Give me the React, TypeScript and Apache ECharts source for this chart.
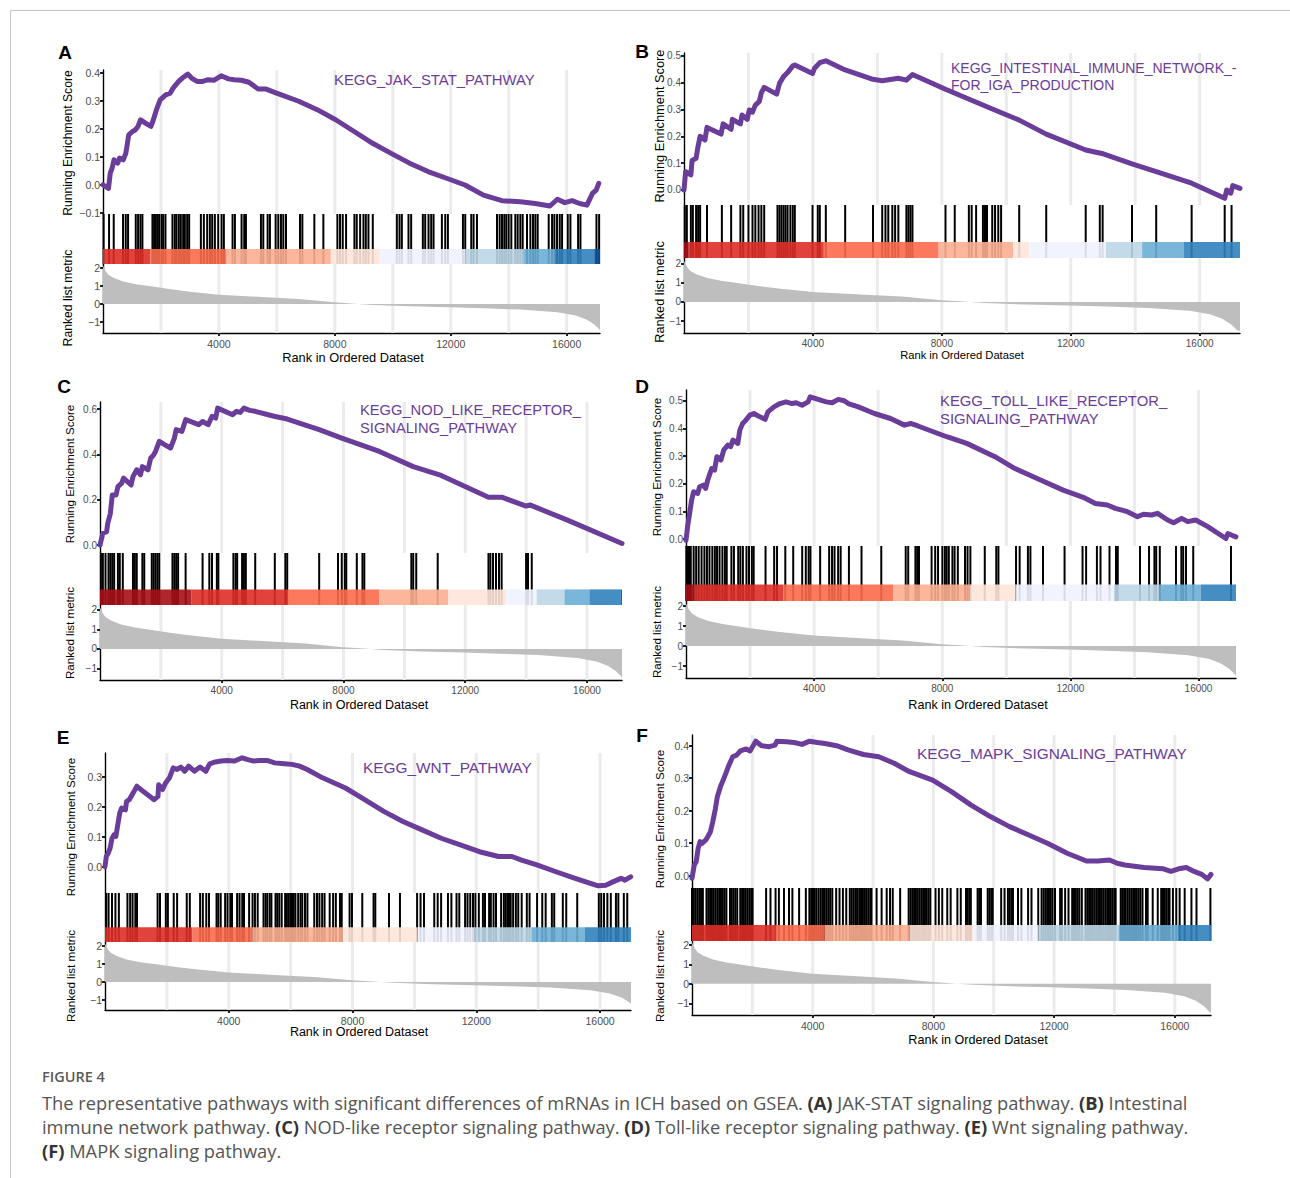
import React, { useEffect, useRef } from "react";
import * as echarts from "echarts";

// ---------------- data ----------------
const gridTicks = [2000, 4000, 6000, 8000, 10000, 12000, 14000, 16000];
const xTickLabels = [4000, 8000, 12000, 16000];
const metricTicks = [-1, 0, 1, 2];
const bandPalette = ["#08519C", "#3182BD", "#6BAED6", "#BDD7E7", "#EFF3FF", "#FEE5D9", "#FCAE91", "#FB6A4A", "#DE2D26", "#A50F15"];

const metricCurve = [[0, 2.12], [99, 1.8], [188, 1.62], [379, 1.44], [698, 1.25], [1144, 1.1], [1654, 0.98], [2292, 0.83], [2929, 0.7], [4000, 0.52], [5479, 0.39], [6754, 0.28], [7991, 0.09], [8667, 0.02], [9304, -0.05], [10579, -0.13], [11943, -0.18], [13129, -0.24], [14404, -0.31], [15679, -0.46], [16317, -0.64], [16699, -0.87], [16954, -1.14], [17082, -1.33], [17146, -1.45], [17250, -1.5]];

const titleA = ["KEGG_JAK_STAT_PATHWAY"];
const titleB = ["KEGG_INTESTINAL_IMMUNE_NETWORK_-", "FOR_IGA_PRODUCTION"];
const titleC = ["KEGG_NOD_LIKE_RECEPTOR_", "SIGNALING_PATHWAY"];
const titleD = ["KEGG_TOLL_LIKE_RECEPTOR_", "SIGNALING_PATHWAY"];
const titleE = ["KEGG_WNT_PATHWAY"];
const titleF = ["KEGG_MAPK_SIGNALING_PATHWAY"];

const esTicksA = [-0.1, 0, 0.1, 0.2, 0.3, 0.4];
const esTicksB = [0, 0.1, 0.2, 0.3, 0.4, 0.5];
const esTicksC = [0, 0.2, 0.4, 0.6];
const esTicksD = [0, 0.1, 0.2, 0.3, 0.4, 0.5];
const esTicksE = [0, 0.1, 0.2, 0.3];
const esTicksF = [0, 0.1, 0.2, 0.3, 0.4];

const esA = [[0, 0], [188, -0.012], [251, 0.042], [315, 0.06], [379, 0.09], [507, 0.078], [570, 0.096], [698, 0.09], [787, 0.113], [889, 0.179], [1017, 0.191], [1118, 0.197], [1208, 0.209], [1297, 0.233], [1463, 0.221], [1654, 0.209], [1718, 0.227], [1845, 0.269], [1973, 0.304], [2164, 0.322], [2317, 0.328], [2419, 0.346], [2610, 0.37], [2738, 0.382], [2929, 0.396], [3056, 0.382], [3248, 0.37], [3439, 0.37], [3630, 0.376], [3822, 0.374], [4077, 0.39], [4332, 0.379], [4523, 0.376], [4778, 0.374], [5033, 0.367], [5352, 0.343], [5607, 0.343], [5989, 0.328], [6754, 0.299], [7392, 0.269], [8029, 0.233], [8667, 0.191], [9304, 0.149], [9942, 0.113], [10579, 0.078], [11217, 0.048], [11854, 0.024], [12492, 0], [13129, -0.036], [13767, -0.056], [14404, -0.06], [14914, -0.066], [15424, -0.075], [15679, -0.051], [15934, -0.063], [16189, -0.056], [16444, -0.066], [16699, -0.072], [16890, -0.03], [17018, -0.018], [17107, 0.006]];
const esB = [[0, 0], [50, 0.068], [213, 0.056], [250, 0.11], [375, 0.118], [425, 0.155], [500, 0.2], [650, 0.186], [713, 0.233], [1150, 0.208], [1213, 0.246], [1463, 0.226], [1500, 0.263], [1750, 0.246], [1800, 0.279], [1963, 0.263], [2025, 0.298], [2125, 0.29], [2213, 0.316], [2338, 0.33], [2400, 0.362], [2488, 0.382], [2875, 0.357], [2963, 0.397], [3088, 0.422], [3213, 0.437], [3375, 0.462], [3438, 0.465], [3988, 0.434], [4050, 0.453], [4213, 0.474], [4400, 0.481], [5000, 0.447], [5863, 0.412], [6150, 0.407], [6650, 0.416], [6900, 0.409], [7088, 0.43], [8113, 0.375], [9400, 0.31], [10400, 0.26], [11238, 0.208], [12463, 0.149], [12963, 0.136], [13900, 0.097], [14650, 0.068], [15750, 0.025], [16775, -0.031], [16838, 0], [16963, -0.012], [17025, 0.016], [17250, 0.006]];
const esC = [[0, 0], [94, 0.052], [218, 0.059], [255, 0.096], [341, 0.14], [403, 0.221], [527, 0.221], [589, 0.258], [712, 0.273], [774, 0.295], [1021, 0.265], [1083, 0.302], [1207, 0.332], [1330, 0.31], [1392, 0.346], [1577, 0.332], [1664, 0.383], [1763, 0.398], [1825, 0.413], [1948, 0.457], [2134, 0.442], [2319, 0.428], [2443, 0.472], [2504, 0.509], [2690, 0.501], [2813, 0.553], [3246, 0.531], [3370, 0.545], [3555, 0.531], [3679, 0.568], [3802, 0.56], [3864, 0.604], [4358, 0.575], [4482, 0.59], [4606, 0.585], [4729, 0.604], [4915, 0.594], [5100, 0.59], [5718, 0.568], [6151, 0.556], [7201, 0.509], [7943, 0.472], [9179, 0.413], [10291, 0.346], [11156, 0.31], [12763, 0.211], [13196, 0.211], [13999, 0.172], [14123, 0.177], [15359, 0.11], [17150, 0.007]];
const esD = [[0, -0.004], [50, 0.045], [113, 0.093], [175, 0.141], [238, 0.171], [363, 0.165], [426, 0.189], [551, 0.195], [614, 0.183], [677, 0.213], [802, 0.255], [890, 0.249], [965, 0.298], [1091, 0.286], [1179, 0.322], [1304, 0.34], [1392, 0.334], [1467, 0.358], [1617, 0.346], [1680, 0.394], [1768, 0.418], [1868, 0.43], [1994, 0.448], [2119, 0.454], [2307, 0.442], [2470, 0.433], [2558, 0.46], [2746, 0.478], [2934, 0.49], [3122, 0.496], [3310, 0.49], [3436, 0.493], [3624, 0.484], [3812, 0.496], [3875, 0.514], [4125, 0.505], [4376, 0.496], [4564, 0.493], [4752, 0.505], [4941, 0.5], [5066, 0.49], [5379, 0.478], [5881, 0.454], [6383, 0.436], [6822, 0.412], [7010, 0.418], [7261, 0.408], [8138, 0.37], [8765, 0.346], [9643, 0.298], [10270, 0.255], [11085, 0.213], [11775, 0.177], [12402, 0.151], [12778, 0.129], [13154, 0.123], [13405, 0.111], [13781, 0.099], [14095, 0.081], [14283, 0.09], [14534, 0.087], [14722, 0.093], [15035, 0.069], [15223, 0.059], [15474, 0.075], [15662, 0.063], [15913, 0.069], [16289, 0.045], [16854, 0.002], [16916, 0.02], [17042, 0.014], [17167, 0.008]];
const esE = [[0, 0], [42, 0.034], [104, 0.045], [165, 0.062], [227, 0.095], [289, 0.106], [351, 0.101], [413, 0.14], [475, 0.179], [536, 0.196], [660, 0.19], [697, 0.218], [784, 0.224], [846, 0.235], [908, 0.246], [1031, 0.269], [1093, 0.263], [1588, 0.224], [1712, 0.235], [1736, 0.274], [1860, 0.258], [1959, 0.28], [2083, 0.297], [2206, 0.33], [2330, 0.325], [2454, 0.333], [2577, 0.319], [2701, 0.336], [2887, 0.319], [3072, 0.333], [3258, 0.319], [3382, 0.344], [3567, 0.35], [3753, 0.353], [3938, 0.355], [4186, 0.353], [4433, 0.364], [4619, 0.358], [4804, 0.353], [4990, 0.355], [5237, 0.355], [5484, 0.347], [5794, 0.344], [6041, 0.342], [6288, 0.336], [6536, 0.325], [7031, 0.297], [7773, 0.263], [8391, 0.224], [9010, 0.185], [9628, 0.151], [10247, 0.123], [10865, 0.095], [11484, 0.073], [12102, 0.05], [12721, 0.034], [13154, 0.034], [13463, 0.022], [13958, 0.006], [14576, -0.017], [15195, -0.039], [15690, -0.056], [15937, -0.064], [16184, -0.062], [16432, -0.05], [16679, -0.039], [16803, -0.045], [16989, -0.034]];
const esF = [[0, -0.008], [76, 0.033], [140, 0.043], [204, 0.084], [267, 0.105], [331, 0.099], [458, 0.11], [522, 0.12], [611, 0.135], [688, 0.166], [777, 0.207], [840, 0.243], [942, 0.274], [1032, 0.294], [1121, 0.315], [1223, 0.34], [1350, 0.366], [1478, 0.371], [1605, 0.384], [1796, 0.39], [1923, 0.384], [2114, 0.414], [2306, 0.4], [2560, 0.397], [2752, 0.402], [2815, 0.414], [3134, 0.412], [3388, 0.41], [3643, 0.404], [3898, 0.414], [4153, 0.41], [4408, 0.407], [4790, 0.4], [5172, 0.387], [5682, 0.373], [6191, 0.366], [6701, 0.346], [7210, 0.32], [7975, 0.294], [8612, 0.258], [9249, 0.217], [9886, 0.182], [10523, 0.151], [11160, 0.125], [11797, 0.099], [12434, 0.069], [13071, 0.045], [13453, 0.045], [13835, 0.048], [14090, 0.038], [14345, 0.033], [14982, 0.025], [15619, 0.021], [15874, 0.013], [16128, 0.021], [16383, 0.025], [16638, 0.013], [16893, 0.004], [17084, -0.01], [17200, 0.004]];

const hitsA = [20, 209, 370, 692, 785, 865, 1130, 1211, 1291, 1360, 1706, 1764, 1821, 1879, 1937, 2017, 2075, 2155, 2397, 2478, 2536, 2616, 2685, 2766, 2824, 2904, 2973, 3377, 3480, 3595, 3688, 3768, 3860, 3976, 4091, 4171, 4471, 4552, 4782, 4874, 4932, 5450, 5531, 5681, 5761, 5957, 6049, 6141, 6222, 6314, 6798, 6879, 7293, 7604, 8088, 8180, 8273, 8388, 8676, 8756, 8872, 8987, 9068, 9160, 9309, 10139, 10231, 10312, 10542, 10634, 11037, 11118, 11233, 11325, 11406, 11694, 11809, 11901, 12420, 12500, 12708, 12788, 12904, 13595, 13687, 13768, 13848, 13917, 13998, 14090, 14228, 14309, 14401, 14482, 14632, 14747, 14839, 14920, 15000, 15380, 15496, 15576, 15668, 15761, 15841, 16037, 16129, 16394, 16475, 17028, 17120];
const hitsB = [25, 88, 213, 275, 375, 438, 500, 713, 1175, 1463, 1750, 1838, 2000, 2125, 2213, 2313, 2400, 2488, 2900, 2963, 3025, 3088, 3150, 3213, 3300, 3375, 3438, 3988, 4150, 4213, 4400, 5000, 5863, 6150, 6250, 6338, 6463, 6550, 6650, 6900, 6963, 7025, 7088, 8113, 8400, 8838, 8925, 9063, 9275, 9338, 9400, 9563, 9650, 9750, 9838, 10400, 11238, 12463, 12900, 12988, 13900, 14650, 15750, 16775, 16988];
const hitsC = [30, 94, 181, 280, 341, 403, 465, 589, 650, 749, 1083, 1145, 1207, 1392, 1454, 1701, 1763, 1825, 1887, 1948, 2381, 2443, 2504, 2566, 2813, 3370, 3592, 3679, 3839, 3889, 4383, 4457, 4507, 4667, 4729, 4791, 5100, 5743, 6089, 6151, 7201, 7819, 7943, 8042, 8091, 8437, 8623, 8684, 10229, 10291, 10390, 11095, 12763, 12825, 12912, 13011, 13109, 13196, 13999, 14061, 14185];
const hitsD = [10, 37, 93, 149, 239, 317, 396, 486, 575, 654, 733, 822, 901, 968, 1047, 1136, 1215, 1271, 1417, 1496, 1630, 1697, 1776, 1888, 1967, 2056, 2113, 2483, 2752, 2842, 3100, 3347, 3627, 3740, 3829, 3885, 4188, 4469, 4559, 4637, 4749, 4828, 5086, 5479, 6096, 6859, 6937, 7162, 7218, 7274, 7667, 7779, 7868, 8003, 8082, 8138, 8205, 8317, 8385, 8486, 8710, 8789, 8878, 9327, 9686, 9753, 10303, 10416, 10674, 10752, 11145, 11818, 12379, 12491, 12828, 12940, 13221, 13423, 13479, 14174, 14455, 14623, 14679, 14791, 15296, 15464, 15521, 15610, 15835, 17013];
const hitsE = [38, 115, 226, 337, 448, 725, 813, 891, 980, 1035, 1700, 1777, 1966, 2032, 2221, 2331, 2642, 2741, 3074, 3162, 3273, 3362, 3605, 3661, 3739, 3883, 3960, 4049, 4104, 4270, 4348, 4436, 4492, 4658, 4769, 4846, 4935, 5123, 5190, 5245, 5323, 5378, 5511, 5567, 5633, 5711, 5822, 5877, 5932, 5988, 6043, 6099, 6154, 6243, 6320, 6376, 6464, 6542, 6763, 6852, 6930, 7018, 7096, 7262, 7373, 7461, 7594, 7650, 7905, 7982, 8315, 8680, 8736, 9179, 9533, 10087, 10198, 10309, 10641, 10752, 10863, 11084, 11195, 11361, 11450, 11638, 11716, 11804, 11893, 11971, 12082, 12214, 12281, 12414, 12470, 12558, 12636, 12802, 12891, 12946, 13002, 13057, 13112, 13190, 13279, 13356, 13467, 13633, 13722, 13965, 14132, 14242, 14442, 14519, 14796, 14907, 15262, 15960, 16037, 16126, 16236, 16347, 16513, 16591, 16768, 16879];
const hitsF = [0, 60, 120, 180, 240, 300, 360, 480, 540, 600, 660, 720, 780, 840, 900, 960, 1020, 1080, 1140, 1260, 1320, 1380, 1440, 1500, 1600, 1660, 1720, 1780, 1840, 1900, 1960, 2010, 2456, 2601, 2769, 2880, 3048, 3215, 3327, 3550, 3773, 3890, 3950, 4010, 4070, 4130, 4200, 4270, 4340, 4400, 4460, 4520, 4580, 4650, 4778, 4889, 5001, 5112, 5230, 5290, 5350, 5410, 5470, 5540, 5600, 5665, 5730, 5790, 5850, 5910, 5950, 6117, 6284, 6452, 6563, 6653, 6898, 7180, 7240, 7300, 7360, 7420, 7480, 7540, 7600, 7660, 7720, 7780, 7840, 7900, 8070, 8181, 8293, 8460, 8572, 8795, 8907, 9080, 9140, 9200, 9240, 9465, 9520, 9576, 9800, 9860, 9920, 9967, 10246, 10358, 10470, 10530, 10590, 10637, 10804, 10916, 11139, 11251, 11474, 11585, 11650, 11710, 11770, 11830, 11890, 11950, 12030, 12199, 12255, 12366, 12478, 12600, 12660, 12720, 12780, 12840, 12920, 13040, 13100, 13160, 13220, 13280, 13340, 13400, 13460, 13520, 13580, 13640, 13700, 13760, 13820, 13880, 13940, 14000, 14040, 14208, 14260, 14320, 14375, 14440, 14500, 14560, 14620, 14680, 14740, 14800, 14860, 14930, 15045, 15101, 15268, 15436, 15550, 15610, 15670, 15730, 15790, 15826, 15938, 16049, 16161, 16328, 16552, 16719, 17180];

// colour band: [start rank, end rank, palette index 1..10]
const bandA = [[0, 1630, 9], [1630, 4265, 8], [4265, 7860, 7], [7860, 9550, 6], [9550, 12520, 5], [12520, 14525, 4], [14525, 15600, 3], [15600, 16950, 2], [16950, 17150, 1]];
const bandB = [[0, 150, 10], [150, 4338, 9], [4338, 7900, 8], [7900, 10213, 7], [10213, 10713, 6], [10713, 13088, 5], [13088, 14213, 4], [14213, 15500, 3], [15500, 17250, 2]];
const bandC = [[0, 2999, 10], [2999, 6151, 9], [6151, 9179, 8], [9179, 11441, 7], [11441, 13344, 6], [13344, 14345, 5], [14345, 15260, 4], [15260, 16076, 3], [16076, 17114, 2], [17114, 17150, 1]];
const bandD = [[0, 261, 10], [261, 3030, 9], [3030, 6470, 8], [6470, 8860, 7], [8860, 10290, 6], [10290, 13360, 5], [13360, 14760, 4], [14760, 16070, 3], [16070, 17170, 2]];
const bandE = [[0, 2830, 9], [2830, 4755, 8], [4755, 7690, 7], [7690, 10100, 6], [10100, 11945, 5], [11945, 13780, 4], [13780, 15500, 3], [15500, 17000, 2]];
const bandF = [[0, 2760, 9], [2760, 4400, 8], [4400, 7210, 7], [7210, 9320, 6], [9320, 11476, 5], [11476, 14135, 4], [14135, 16110, 3], [16110, 17200, 2]];

const captionHead = "FIGURE 4";
const captionLines = [
  "The representative pathways with significant differences of mRNAs in ICH based on GSEA. {b|(A)} JAK-STAT signaling pathway. {b|(B)} Intestinal",
  "immune network pathway. {b|(C)} NOD-like receptor signaling pathway. {b|(D)} Toll-like receptor signaling pathway. {b|(E)} Wnt signaling pathway.",
  "{b|(F)} MAPK signaling pathway.",
];

const PANELS = [
  { letter: "A", title: titleA, es: esA, hits: hitsA, band: bandA, esTicks: esTicksA },
  { letter: "B", title: titleB, es: esB, hits: hitsB, band: bandB, esTicks: esTicksB },
  { letter: "C", title: titleC, es: esC, hits: hitsC, band: bandC, esTicks: esTicksC },
  { letter: "D", title: titleD, es: esD, hits: hitsD, band: bandD, esTicks: esTicksD },
  { letter: "E", title: titleE, es: esE, hits: hitsE, band: bandE, esTicks: esTicksE },
  { letter: "F", title: titleF, es: esF, hits: hitsF, band: bandF, esTicks: esTicksF },
];

// ---------------- layout / style ----------------
const SANS = "'Liberation Sans', Arial, Helvetica, sans-serif";
const NARROW = "'Liberation Sans Narrow', 'Arial Narrow', 'Liberation Sans', Arial, sans-serif";
const CAPFONT = "'Open Sans', 'Noto Sans', sans-serif";
const PURPLE = "#6A3D9A";

const LAYOUT = [
  { left: 103, width: 497, esTop: 70, esH: 144, hitsH: 50, metH: 69, esRange: [-0.1036, 0.4107], metRange: [-1.61, 2.22], xMax: 17150, narrow: false, letterPos: [65, 52], titlePos: [[334, 80]], titleSize: 14.9, yTitleX: 68, yTitleY: [143, 298], yTitleSize: 12.2, xTitlePos: [353, 357], xTitleSize: 12.8 },
  { left: 684, width: 556, esTop: 53, esH: 152, hitsH: 53, metH: 75, esRange: [-0.056, 0.51], metRange: [-1.61, 2.28], xMax: 17250, narrow: true, letterPos: [642, 51], titlePos: [[951, 68], [951, 85]], titleSize: 14, yTitleX: 659, yTitleY: [126, 292], yTitleSize: 12.8, xTitlePos: [962, 355], xTitleSize: 11.2 },
  { left: 100, width: 522, esTop: 402, esH: 151, hitsH: 52, metH: 75, esRange: [-0.035, 0.631], metRange: [-1.58, 2.24], xMax: 17150, narrow: true, letterPos: [64, 386], titlePos: [[360, 410], [360, 428]], titleSize: 14.7, yTitleX: 69, yTitleY: [474, 633], yTitleSize: 11.6, xTitlePos: [359, 705], xTitleSize: 12.5 },
  { left: 686, width: 550, esTop: 390, esH: 156, hitsH: 55, metH: 77, esRange: [-0.025, 0.539], metRange: [-1.6, 2.25], xMax: 17170, narrow: true, letterPos: [642, 386], titlePos: [[940, 401], [940, 419]], titleSize: 14.85, yTitleX: 656, yTitleY: [467, 632], yTitleSize: 11.6, xTitlePos: [978, 705], xTitleSize: 12.6 },
  { left: 105, width: 526, esTop: 753, esH: 140, hitsH: 49, metH: 68, esRange: [-0.088, 0.38], metRange: [-1.56, 2.22], xMax: 17000, narrow: false, letterPos: [63, 737], titlePos: [[363, 767]], titleSize: 15.4, yTitleX: 70, yTitleY: [827, 976], yTitleSize: 11.6, xTitlePos: [359, 1032], xTitleSize: 12.5 },
  { left: 692, width: 519, esTop: 735, esH: 153, hitsH: 53, metH: 74, esRange: [-0.038, 0.433], metRange: [-1.6, 2.2], xMax: 17200, narrow: false, letterPos: [642, 735], titlePos: [[917, 753]], titleSize: 15.4, yTitleX: 659, yTitleY: [819, 976], yTitleSize: 11.6, xTitlePos: [978, 1040], xTitleSize: 12.6 },
];

function fmt(v: number, d: number) {
  const s = Math.abs(v) < 1e-9 ? (0).toFixed(d) : v.toFixed(d);
  return s.replace("-", "\u2212");
}

function buildOption() {
  const grid: any[] = [];
  const xAxis: any[] = [];
  const yAxis: any[] = [];
  const series: any[] = [];
  const graphic: any[] = [];

  graphic.push({
    type: "rect", silent: true, z: 0,
    shape: { x: 10.5, y: 10.5, width: 1300, height: 1200 },
    style: { fill: "none", stroke: "#c4c4c4", lineWidth: 1 },
  });

  PANELS.forEach((p, i) => {
    const L = LAYOUT[i];
    const tickFont = L.narrow ? NARROW : SANS;
    const tickSize = L.narrow ? 10 : 10.5;
    const base = grid.length;
    const gEs = base, gHits = base + 1, gMet = base + 2;
    grid.push({ left: L.left, top: L.esTop, width: L.width, height: L.esH, containLabel: false, outerBoundsMode: "none" });
    grid.push({ left: L.left, top: L.esTop + L.esH, width: L.width, height: L.hitsH, containLabel: false, outerBoundsMode: "none" });
    grid.push({ left: L.left, top: L.esTop + L.esH + L.hitsH, width: L.width, height: L.metH, containLabel: false, outerBoundsMode: "none" });

    const axisLine = { show: true, onZero: false, lineStyle: { color: "#000", width: 1.4 } };
    const tickStyle = { show: true, length: 3, lineStyle: { color: "#222", width: 2 } };
    const labelStyle = { color: "#4D4D4D", fontSize: tickSize, fontFamily: tickFont };

    // ES panel
    xAxis.push({ gridIndex: gEs, type: "value", min: 0, max: L.xMax, show: false });
    yAxis.push({
      gridIndex: gEs, type: "value", min: L.esRange[0], max: L.esRange[1],
      axisLine, axisTick: { ...tickStyle, customValues: p.esTicks },
      axisLabel: { ...labelStyle, margin: 3, customValues: p.esTicks, formatter: (v: number) => fmt(v, 1) },
      splitLine: { show: false },
    });
    // hits panel
    xAxis.push({ gridIndex: gHits, type: "value", min: 0, max: L.xMax, show: false });
    yAxis.push({
      gridIndex: gHits, type: "value", min: 0, max: 1,
      axisLine, axisTick: { show: false }, axisLabel: { show: false }, splitLine: { show: false },
    });
    // metric panel
    xAxis.push({
      gridIndex: gMet, type: "value", min: 0, max: L.xMax,
      axisLine, axisTick: { ...tickStyle, customValues: xTickLabels },
      axisLabel: { ...labelStyle, margin: 5, customValues: xTickLabels, formatter: (v: number) => String(v) },
      splitLine: { show: false },
    });
    yAxis.push({
      gridIndex: gMet, type: "value", min: L.metRange[0], max: L.metRange[1],
      axisLine, axisTick: { ...tickStyle, customValues: metricTicks },
      axisLabel: { ...labelStyle, margin: 3, customValues: metricTicks, formatter: (v: number) => fmt(v, 0) },
      splitLine: { show: false },
    });

    const gridLineRender = (params: any, api: any) => {
      const cs = params.coordSys;
      const px = api.coord([api.value(0), 0])[0];
      return {
        type: "line",
        shape: { x1: px, y1: cs.y, x2: px, y2: cs.y + cs.height },
        style: { stroke: "#EBEBEB", lineWidth: 3 },
      };
    };
    [gEs, gMet].forEach((g) => {
      series.push({
        type: "custom", xAxisIndex: g, yAxisIndex: g, z: 1, silent: true,
        data: gridTicks.map((t) => [t, 0]),
        renderItem: gridLineRender,
      });
    });

    // ES curve
    series.push({
      type: "line", xAxisIndex: gEs, yAxisIndex: gEs, z: 5, silent: true,
      data: p.es, showSymbol: false, symbol: "none",
      lineStyle: { color: PURPLE, width: 5, join: "round", cap: "round" },
    });

    // hits
    series.push({
      type: "custom", xAxisIndex: gHits, yAxisIndex: gHits, z: 2, silent: true,
      data: p.hits.map((h) => [h, 0]),
      renderItem: (params: any, api: any) => {
        const cs = params.coordSys;
        const px = api.coord([api.value(0), 0])[0];
        return { type: "rect", shape: { x: px - 1, y: cs.y, width: 2, height: cs.height }, style: { fill: "#000" } };
      },
    });
    // colour band
    series.push({
      type: "custom", xAxisIndex: gHits, yAxisIndex: gHits, z: 3, silent: true,
      data: p.band,
      renderItem: (params: any, api: any) => {
        const a = api.coord([api.value(0), 0]);
        const b = api.coord([api.value(1), 0.3]);
        const c = bandPalette[api.value(2) - 1];
        return { type: "rect", shape: { x: a[0], y: b[1], width: b[0] - a[0], height: a[1] - b[1] }, style: { fill: c, opacity: 0.9 } };
      },
    });

    // ranked metric
    series.push({
      type: "line", xAxisIndex: gMet, yAxisIndex: gMet, z: 3, silent: true,
      data: metricCurve, showSymbol: false, symbol: "none",
      lineStyle: { width: 0, opacity: 0 },
      areaStyle: { color: "#BEBEBE", opacity: 1 },
    });

    // texts
    graphic.push({
      type: "text", silent: true, z: 10, x: L.letterPos[0], y: L.letterPos[1],
      style: { text: p.letter, fontFamily: SANS, fontWeight: "bold", fontSize: 19, fill: "#000", align: "center", verticalAlign: "middle" },
    });
    p.title.forEach((t, k) => {
      graphic.push({
        type: "text", silent: true, z: 10, x: L.titlePos[k][0], y: L.titlePos[k][1],
        style: { text: t, fontFamily: SANS, fontSize: L.titleSize, fill: PURPLE, align: "left", verticalAlign: "middle" },
      });
    });
    ["Running Enrichment Score", "Ranked list metric"].forEach((t, k) => {
      graphic.push({
        type: "text", silent: true, z: 10, x: L.yTitleX, y: L.yTitleY[k], rotation: Math.PI / 2,
        style: { text: t, fontFamily: SANS, fontSize: L.yTitleSize, fill: "#000", align: "center", verticalAlign: "middle" },
      });
    });
    graphic.push({
      type: "text", silent: true, z: 10, x: L.xTitlePos[0], y: L.xTitlePos[1],
      style: { text: "Rank in Ordered Dataset", fontFamily: SANS, fontSize: L.xTitleSize, fill: "#000", align: "center", verticalAlign: "middle" },
    });
  });

  graphic.push({
    type: "text", silent: true, z: 10, x: 42, y: 1076,
    style: { text: captionHead, fontFamily: CAPFONT, fontWeight: 600, fontSize: 14.5, fill: "#5a5a5a", align: "left", verticalAlign: "middle" },
  });
  const capY = [1102, 1126, 1150];
  captionLines.forEach((t, k) => {
    graphic.push({
      type: "text", silent: true, z: 10, x: 42, y: capY[k],
      style: {
        text: t, fontFamily: CAPFONT, fontSize: 18.3, fill: "#555", align: "left", verticalAlign: "middle",
        rich: { b: { fontFamily: CAPFONT, fontSize: 18.3, fontWeight: "bold", fill: "#333" } },
      },
    });
  });

  return {
    animation: false,
    backgroundColor: "#fff",
    grid, xAxis, yAxis, series, graphic,
  };
}

export default function App() {
  const ref = useRef<HTMLDivElement>(null);
  useEffect(() => {
    const chart = echarts.init(ref.current as HTMLDivElement, null, { renderer: "svg" });
    chart.setOption(buildOption() as any);
    return () => chart.dispose();
  }, []);
  return <div ref={ref} style={{ position: "absolute", left: 0, top: 0, width: 1290, height: 1178, background: "#fff" }} />;
}
